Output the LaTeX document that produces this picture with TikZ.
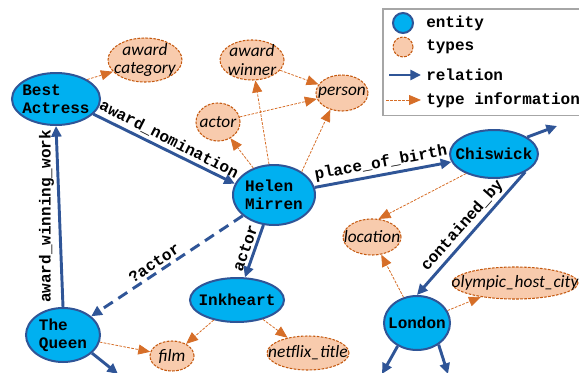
\documentclass[tikz,border=0pt]{standalone}
\usepackage{fontspec}
\setmonofont{Liberation Mono}
\newfontfamily\typefont{Carlito}
\usetikzlibrary{arrows.meta,shapes.geometric}
\definecolor{entblue}{RGB}{0,176,240}
\definecolor{entline}{RGB}{47,85,151}
\definecolor{typefill}{RGB}{248,203,173}
\definecolor{typeline}{RGB}{197,90,17}
\definecolor{typearrow}{RGB}{214,110,40}
\tikzset{
    entity/.style={ellipse, draw=entline, fill=entblue, line width=1.5pt, inner sep=0pt},
    enttext/.style={font=\ttfamily\bfseries\fontsize{12}{13.5}\selectfont, align=left, inner sep=0pt},
    typ/.style={ellipse, draw=typeline, fill=typefill, dash pattern=on 2pt off 1pt, line width=0.8pt, inner sep=0pt},
    typtext/.style={font=\typefont\itshape\fontsize{13}{14}\selectfont, align=center, inner sep=0pt},
    rel/.style={draw=entline, line width=2.2pt, -{Triangle[length=8pt, width=7.5pt]}},
    typarrow/.style={draw=typearrow, line width=0.6pt, dash pattern=on 2pt off 1pt, -{Triangle[length=9pt, width=7.5pt]}},
    lbl/.style={font=\ttfamily\bfseries\fontsize{12}{13}\selectfont, inner sep=2pt, anchor=south},
    legtext/.style={font=\ttfamily\bfseries\fontsize{12}{13}\selectfont, anchor=west, inner sep=0pt}
}
\begin{document}
\begin{tikzpicture}[x=0.75pt, y=-0.75pt]
        \useasboundingbox (0, 0) rectangle (579, 372);

        \node[entity, minimum width=66pt, minimum height=39pt, label={[enttext]center:Best\\Actress}] (ba) at (56, 99) {};
        \node[entity, minimum width=61.5pt, minimum height=45pt, label={[enttext]center:Helen\\Mirren}] (hm) at (274, 195) {};
        \node[entity, minimum width=66pt, minimum height=36pt, label={[enttext]center:Chiswick}] (chis) at (494, 154) {};
        \node[entity, minimum width=70.5pt, minimum height=33pt, label={[enttext]center:Inkheart}] (ink) at (237, 300) {};
        \node[entity, minimum width=55.5pt, minimum height=40.5pt, label={[enttext]center:The\\Queen}] (tq) at (63, 335) {};
        \node[entity, minimum width=49.5pt, minimum height=40.5pt, label={[enttext]center:London}] (lon) at (417, 323) {};

        \node[typ, minimum width=55.5pt, minimum height=33pt, label={[typtext]center:award\\category}] (acat) at (145, 60) {};
        \node[typ, minimum width=48pt, minimum height=30pt, label={[typtext]center:award\\winner}] (awin) at (252, 60) {};
        \node[typ, minimum width=33pt, minimum height=28.5pt, label={[typtext]center:actor}] (actT) at (218, 122) {};
        \node[typ, minimum width=39pt, minimum height=27pt, label={[typtext]center:person}] (pers) at (342, 93) {};
        \node[typ, minimum width=43.5pt, minimum height=27pt, label={[typtext]center:location}] (loc) at (372, 237) {};
        \node[typ, minimum width=94.5pt, minimum height=24pt, label={[typtext]center:olympic\_host\_city}] (oly) at (515, 283) {};
        \node[typ, minimum width=33pt, minimum height=22.5pt, label={[typtext]center:film}] (film) at (172, 356) {};
        \node[typ, minimum width=61.5pt, minimum height=25.5pt, label={[typtext]center:netflix\_title}] (netf) at (308, 353) {};

        \coordinate (chisOut) at (557, 126);
        \coordinate (lonOutA) at (382, 374);
        \coordinate (lonOutB) at (448, 374);
        \coordinate (tqOut) at (118, 374);

        \draw[typarrow] (ba.32) -- (acat.200);
        \draw[rel] (ba.-22) -- node[lbl, rotate=-27] {award\_nomination} (hm.164);
        \draw[rel] (tq.north) -- node[lbl, rotate=90, inner sep=3pt] {award\_winning\_work} (ba.south);
        \draw[typarrow] (hm) -- (actT);
        \draw[typarrow] (hm) -- (awin);
        \draw[typarrow] (hm.40) -- (pers.-125);
        \draw[typarrow] (actT) -- (pers);
        \draw[typarrow] (awin) -- (pers);
        \draw[rel] (hm) -- node[lbl, rotate=10.6] {place\_of\_birth} (chis);
        \draw[rel, dash pattern=on 8pt off 5pt] (hm) -- node[lbl, rotate=33.6, pos=0.55] {?actor} (tq);
        \draw[rel] (hm) -- node[lbl, rotate=70.6] {actor} (ink);
        \draw[rel] (chis.27) -- (chisOut);
        \draw[typarrow] (chis.215) -- (loc.70);
        \draw[rel] (chis.-30) -- node[lbl, rotate=48.5] {contained\_by} (lon.north);
        \draw[typarrow] (lon) -- (loc);
        \draw[typarrow] (lon) -- (oly);
        \draw[rel] (lon.-130) -- (lonOutA);
        \draw[rel] (lon.-45) -- (lonOutB);
        \draw[typarrow] (tq) -- (film);
        \draw[rel] (tq.-32) -- (tqOut);
        \draw[typarrow] (ink) -- (film);
        \draw[typarrow] (ink) -- (netf);

        \node[draw=gray!70, line width=1.2pt, minimum width=160pt, minimum height=80pt, anchor=north west] (legend) at (382, 8) {};
        \node[entity, minimum width=15pt, minimum height=15pt] (legEnt) at (403, 23) {};
        \node[typ, minimum width=15pt, minimum height=15pt] (legTyp) at (403, 47) {};
        \coordinate (legRelA) at (389, 75);
        \coordinate (legRelB) at (421, 75);
        \coordinate (legTypA) at (386, 100);
        \coordinate (legTypB) at (421, 100);
        \draw[rel] (legRelA) -- (legRelB);
        \draw[typarrow] (legTypA) -- (legTypB);
        \node[legtext] (legEntText) at (426, 23) {entity};
        \node[legtext] (legTypText) at (426, 47) {types};
        \node[legtext] (legRelText) at (426, 75) {relation};
        \node[legtext] (legInfoText) at (426, 100) {type information};
    \end{tikzpicture}
\end{document}
